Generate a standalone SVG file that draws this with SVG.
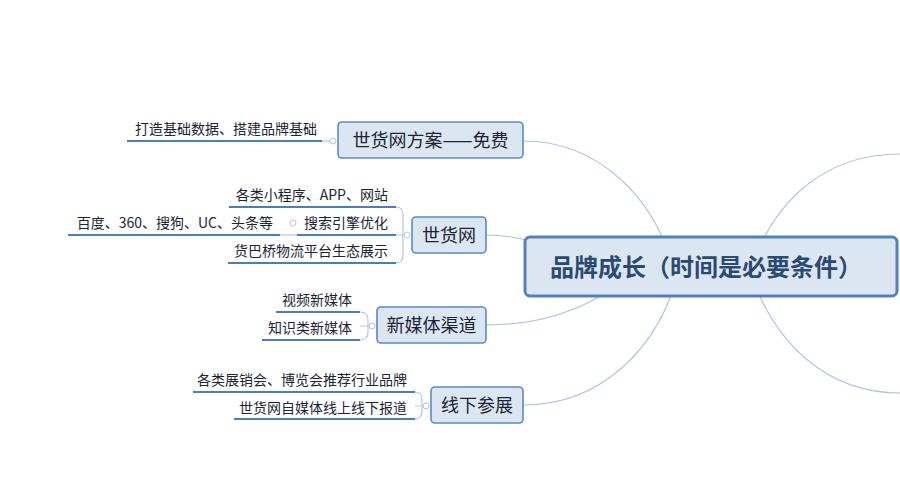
<svg xmlns="http://www.w3.org/2000/svg" width="900" height="500" viewBox="0 0 900 500">
<defs>
<style>
.conn{fill:none;stroke:#b3c5df;stroke-width:1.2}
.ul{fill:none;stroke:#4a7ebb;stroke-width:2.2}
.dot{fill:#ffffff;stroke:#b3c5df;stroke-width:1}
.node{fill:#dce6f2;stroke:#5b8ac6;stroke-width:1.6}
.center{fill:#dce6f2;stroke:#4f81bd;stroke-width:3}
.t{font-family:"Noto Sans CJK SC","Microsoft YaHei",sans-serif;fill:#1c2433}
.leaf{font-size:14px}
.nt{font-size:18px;text-anchor:middle}
.ct{font-size:24px;font-weight:bold;fill:#2b4a73}
</style>
</defs>
<rect width="900" height="500" fill="#ffffff"/>
<g id="connectors">
<path class="conn" d="M523 141 C600 141,655 200,672 266"/>
<path class="conn" d="M486 235 C510 235,530 240,560 250"/>
<path class="conn" d="M486 325 C540 325,580 310,610 290"/>
<path class="conn" d="M523 405 C600 405,660 350,680 266"/>
<path class="conn" d="M752 266 C775 200,825 154,900 154"/>
<path class="conn" d="M748 266 C775 350,832 393,900 393"/>
<path class="conn" d="M322 141 L330 141"/>
<path class="conn" d="M396 207 Q403 207 403 215 L403 255 Q403 263 396 263 M396 235 L404 235"/>
<path class="conn" d="M280 235 L297 235"/>
<path class="conn" d="M360 312 Q368 312 368 320 L368 332 Q368 340 360 340 M360 326 L369 326"/>
<path class="conn" d="M415 392 Q422 392 422 400 L422 411 Q422 419 415 419 M415 406 L423 406"/>
</g>
<g id="center">
<rect class="center" x="525" y="237" width="372" height="59" rx="5"/>
<text class="t ct" x="550" y="275.5">品牌成长（时间是必要条件）</text>
</g>
<g id="n1">
<rect class="node" x="338" y="122" width="185" height="36" rx="4"/>
<text class="t nt" x="430.5" y="147">世货网方案——免费</text>
<circle class="dot" cx="333" cy="141" r="3"/>
<path class="ul" d="M127 141 L322 141"/>
<text class="t leaf" x="135" y="134">打造基础数据、搭建品牌基础</text>
</g>
<g id="n2">
<rect class="node" x="412" y="217" width="74" height="36" rx="4"/>
<text class="t nt" x="449" y="242">世货网</text>
<circle class="dot" cx="407" cy="235" r="3"/>
<path class="ul" d="M229 207 L396 207"/>
<text class="t leaf" x="388" y="200" text-anchor="end">各类小程序、APP、网站</text>
<path class="ul" d="M297 235 L396 235"/>
<text class="t leaf" x="388" y="228" text-anchor="end">搜索引擎优化</text>
<circle class="dot" cx="293" cy="223" r="3"/>
<path class="ul" d="M68 235 L280 235"/>
<text class="t leaf" x="273" y="228" text-anchor="end">百度、360、搜狗、UC、头条等</text>
<path class="ul" d="M228 263 L396 263"/>
<text class="t leaf" x="388" y="256" text-anchor="end">货巴桥物流平台生态展示</text>
</g>
<g id="n3">
<rect class="node" x="377" y="307" width="109" height="36" rx="4"/>
<text class="t nt" x="431.5" y="332">新媒体渠道</text>
<circle class="dot" cx="372" cy="326" r="3"/>
<path class="ul" d="M276 312 L360 312"/>
<text class="t leaf" x="352" y="305" text-anchor="end">视频新媒体</text>
<path class="ul" d="M262 340 L360 340"/>
<text class="t leaf" x="352" y="333" text-anchor="end">知识类新媒体</text>
</g>
<g id="n4">
<rect class="node" x="431" y="387" width="92" height="36" rx="4"/>
<text class="t nt" x="477" y="412">线下参展</text>
<circle class="dot" cx="426" cy="406" r="3"/>
<path class="ul" d="M193 392 L415 392"/>
<text class="t leaf" x="407" y="385" text-anchor="end">各类展销会、博览会推荐行业品牌</text>
<path class="ul" d="M234 419 L415 419"/>
<text class="t leaf" x="407" y="413" text-anchor="end">世货网自媒体线上线下报道</text>
</g>
</svg>
